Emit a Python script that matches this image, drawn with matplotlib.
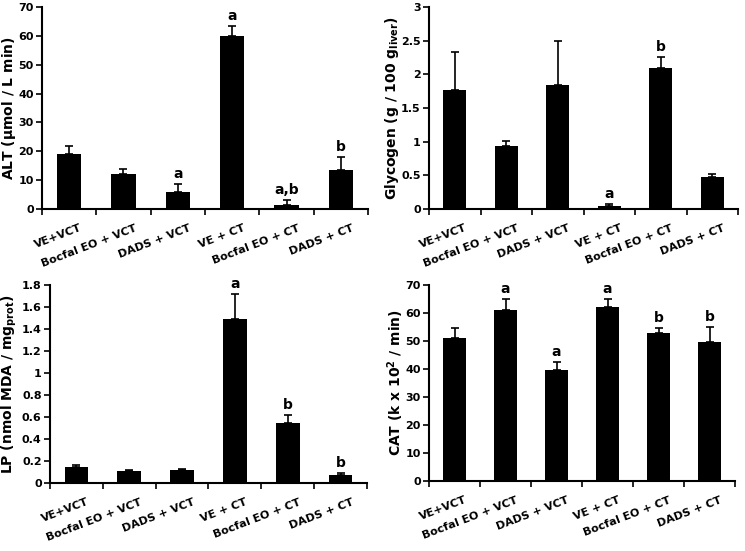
import numpy as np
import matplotlib
matplotlib.use("Agg")
import matplotlib.pyplot as plt

plt.rcParams['font.family'] = ['DejaVu Sans']
plt.rcParams['font.weight'] = 'bold'
plt.rcParams['mathtext.default'] = 'bf'

groups = ["VE+VCT", "Bocfal EO + VCT", "DADS + VCT", "VE + CT", "Bocfal EO + CT", "DADS + CT"]

alt_mean = [19.0, 12.0, 6.0, 60.0, 1.5, 13.5]
alt_err = [2.7, 1.8, 2.5, 3.5, 1.6, 4.5]
alt_sig = ["", "", "a", "a", "a,b", "b"]

gly_mean = [1.76, 0.94, 1.84, 0.04, 2.09, 0.47]
gly_err = [0.57, 0.07, 0.65, 0.03, 0.17, 0.05]
gly_sig = ["", "", "", "a", "b", ""]

lp_mean = [0.15, 0.105, 0.12, 1.49, 0.55, 0.07]
lp_err = [0.012, 0.015, 0.01, 0.23, 0.07, 0.02]
lp_sig = ["", "", "", "a", "b", "b"]

cat_mean = [51.0, 61.0, 39.5, 62.3, 53.0, 49.5]
cat_err = [3.5, 4.0, 3.0, 2.8, 1.5, 5.5]
cat_sig = ["", "a", "a", "a", "b", "b"]

# data, error, letters, label, ymax, step, tick format, axes rect, label x (axes frac)
panels = [
    (alt_mean, alt_err, alt_sig, r"ALT ($\mathregular{\mu}$mol / L min)", 70, 10, "{:.0f}",
     [42/745, 342/551, 326/745, 202/551], -0.1),
    (gly_mean, gly_err, gly_sig, r"Glycogen (g / 100 g$_{\mathregular{liver}}$)", 3, 0.5, "{:g}",
     [429/745, 342/551, 309/745, 202/551], -0.12),
    (lp_mean, lp_err, lp_sig, r"LP (nmol MDA / mg$_{\mathregular{prot}}$)", 1.8, 0.2, "{:g}",
     [50/745, 68/551, 317/745, 198/551], -0.128),
    (cat_mean, cat_err, cat_sig, r"CAT (k x 10$^{\mathregular{2}}$ / min)", 70, 10, "{:.0f}",
     [429/745, 70/551, 306/745, 196/551], -0.11),
]

fig = plt.figure(figsize=(7.45, 5.51), dpi=100)

x = np.arange(len(groups))
for mean, err, sig, ylab, ymax, step, fmt, rect, labx in panels:
    ax = fig.add_axes(rect)
    ax.bar(x, mean, width=0.45, color="black", zorder=2)
    ax.errorbar(x, mean, yerr=[np.zeros(len(err)), err], fmt="none",
                ecolor="black", elinewidth=1.2, capsize=3, capthick=1.2, zorder=3)
    for xi, m, e, s in zip(x, mean, err, sig):
        if s:
            ax.text(xi, m + e + ymax * 0.015, s, ha="center", va="bottom",
                    fontsize=10, fontweight="bold")
    ax.set_xlim(-0.5, len(groups) - 0.5)
    ax.set_ylim(0, ymax)
    yt = np.arange(0, ymax + step / 2, step)
    ax.set_yticks(yt)
    ax.set_yticklabels([fmt.format(round(v, 2)) for v in yt], fontsize=8, fontweight="bold")
    ax.set_xticks(np.arange(-0.5, len(groups), 1.0))
    ax.set_xticklabels([])
    # group labels sit just right of each bar centre
    ax.set_xticks(x + 0.2, minor=True)
    ax.set_xticklabels(groups, minor=True, rotation=21, ha="right", rotation_mode="anchor",
                       fontsize=8, fontweight="bold")
    ax.tick_params(axis="x", which="minor", length=0, pad=10)
    ax.tick_params(axis="x", which="major", length=4, width=1.2, direction="out")
    ax.tick_params(axis="y", length=4, width=1.2, direction="out", pad=2)
    for side in ["top", "right"]:
        ax.spines[side].set_visible(False)
    for side in ["left", "bottom"]:
        ax.spines[side].set_linewidth(1.5)
    ax.set_ylabel(ylab, fontsize=10, fontweight="bold", va="center")
    ax.yaxis.set_label_coords(labx, 0.5)

fig.savefig("out.png", dpi=100)
